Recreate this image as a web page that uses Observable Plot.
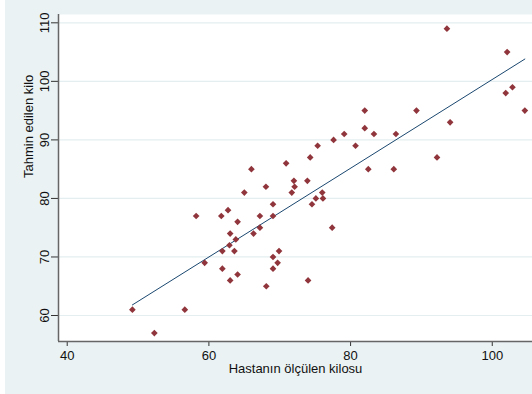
<!DOCTYPE html>
<html>
<head>
<meta charset="utf-8">
<script src="https://cdn.jsdelivr.net/npm/d3@7"></script>
<script src="https://cdn.jsdelivr.net/npm/@observablehq/plot@0.6"></script>
<style>
  html, body { margin: 0; padding: 0; background: #ffffff; }
  #panel { position: absolute; left: 5px; top: 0; width: 527px; height: 394px; background: #eaf2f3; overflow: hidden; }
  #panel svg { display: block; }
</style>
</head>
<body>
<div id="panel"></div>
<script>
// Measured weight of each patient (kg)
const measured = [
  49.2, 52.3, 56.6, 58.2, 59.4,
  61.75, 61.9, 61.9, 62.7, 62.9,
  63.0, 63.0, 63.8, 63.6, 64.05,
  64.05, 65.0, 66.0, 66.3, 67.2,
  67.2, 68.05, 68.1, 69.05, 69.05,
  69.05, 69.05, 69.7, 69.9, 70.9,
  71.7, 72.1, 72.0, 73.9, 74.0,
  74.3, 74.55, 75.1, 75.35, 76.0,
  76.1, 77.4, 77.6, 79.1, 80.7,
  82.0, 82.0, 82.5, 83.3, 86.1,
  86.4, 89.3, 92.2, 93.6, 94.05,
  101.9, 102.1, 102.85, 104.6
];
// Estimated weight for the same patients (kg)
const estimated = [
  61, 57, 61, 77, 69,
  77, 71, 68, 78, 72,
  74, 66, 73, 71, 76,
  67, 81, 85, 74, 77,
  75, 82, 65, 79, 77,
  70, 68, 69, 71, 86,
  81, 82, 83, 83, 66,
  87, 79, 80, 89, 81,
  80, 75, 90, 91, 89,
  95, 92, 85, 91, 85,
  91, 95, 87, 109, 93,
  98, 105, 99, 95
];
const xTicks = [40, 60, 80, 100];
const yTicks = [60, 70, 80, 90, 100, 110];
const xTitle = "Hastanın ölçülen kilosu";
const yTitle = "Tahmin edilen kilo";

const patients = measured.map((x, i) => ({x, y: estimated[i]}));

const xDomain = [38.77, 105.68];
const yDomain = [55.56, 111.42];

const chart = Plot.plot({
  width: 527,
  height: 394,
  marginLeft: 53,
  marginTop: 14,
  marginBottom: 53,
  marginRight: 0,
  style: {
    background: "transparent",
    fontFamily: "'Liberation Sans', Arial, sans-serif",
    fontSize: "13px",
    color: "#111"
  },
  x: {domain: xDomain},
  y: {domain: yDomain},
  marks: [
    Plot.frame({fill: "white", stroke: null}),
    Plot.gridY(yTicks, {stroke: "#e4eef0", strokeOpacity: 1, strokeWidth: 1.2}),
    Plot.axisX(xTicks, {tickSize: 5, tickPadding: 4, label: null, stroke: "#333", fontSize: 13}),
    Plot.axisY(yTicks, {tickSize: 7, tickPadding: 3, tickRotate: -90, label: null, stroke: "#333", fontSize: 13}),
    Plot.ruleX([xDomain[0]], {stroke: "#666", strokeWidth: 1.5}),
    Plot.ruleY([yDomain[0]], {stroke: "#666", strokeWidth: 1.5}),
    Plot.linearRegressionY(patients, {x: "x", y: "y", ci: 0, stroke: "#1a476f", strokeWidth: 1}),
    Plot.dot(patients, {x: "x", y: "y", symbol: "diamond2", r: 3, fill: "#90353b", stroke: null}),
    Plot.text([xTitle], {frameAnchor: "bottom", dy: 31, fontSize: 13, fill: "#111"}),
    Plot.text([yTitle], {frameAnchor: "left", dx: -30, rotate: -90, fontSize: 13, fill: "#111"})
  ]
});

document.getElementById("panel").appendChild(chart);
</script>
</body>
</html>
